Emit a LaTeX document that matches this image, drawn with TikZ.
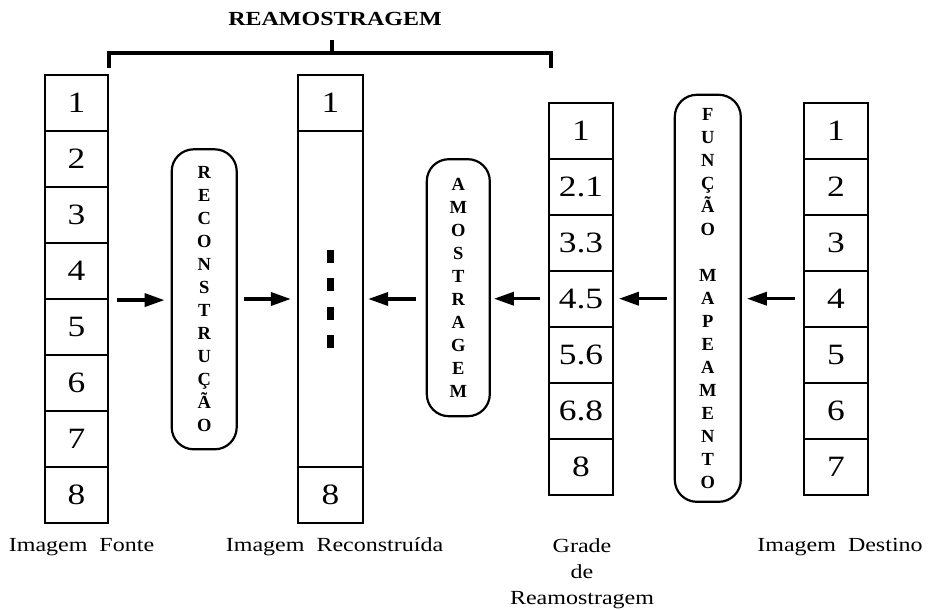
\documentclass[tikz,border=0pt]{standalone}
\usepackage{fontspec}
\setmainfont{Liberation Serif}
\newfontfamily\widefont[FakeStretch=1.2]{Liberation Serif}
\usetikzlibrary{arrows.meta,calc}
\tikzset{
  cell/.style={draw, line width=2.2pt, minimum width=63pt, minimum height=56pt,
    inner sep=0pt, font=\widefont\fontsize{29.5}{29.5}\selectfont},
  vbox/.style={draw, line width=2.2pt, rounded corners=22pt, inner sep=0pt,
    align=center, font=\bfseries\fontsize{18.5}{23}\selectfont},
  arr/.style={line width=3.5pt, -{Triangle[length=20pt,width=13pt]}},
  brk/.style={line width=3.5pt, line join=miter},
  dots/.style={line width=7pt, dash pattern=on 13pt off 15.3pt},
  lbl/.style={font=\widefont\fontsize{20}{26}\selectfont, align=center, inner sep=0pt},
  ttl/.style={font=\widefont\bfseries\fontsize{20}{24}\selectfont, inner sep=0pt}
}
\begin{document}
\begin{tikzpicture}[x=1pt,y=-1pt]
\useasboundingbox (0,0) rectangle (929,610);
\fill[white] (0,0) rectangle (929,610);

% left column: Imagem Fonte
\foreach \i in {1,...,8}
  \node[cell] (L\i) at (76.5,{103+56*(\i-1)}) {\i};

% middle column: Imagem Reconstruida
\node[cell, minimum width=65pt] (M1) at (330.5,103) {1};
\node[cell, minimum width=65pt, minimum height=336pt] (M2) at (330.5,299) {};
\node[cell, minimum width=65pt] (M3) at (330.5,495) {8};
\coordinate (dtop) at (330.5,250);
\coordinate (dbot) at (330.5,348);
\draw[dots] (dtop) -- (dbot);

% grid column
\foreach \v [count=\i] in {1,2.1,3.3,4.5,5.6,6.8,8}
  \node[cell, minimum width=63.5pt] (G\i) at (581,{130.7+56*(\i-1)}) {\v};

% destination column
\foreach \i in {1,...,7}
  \node[cell, minimum width=64pt] (D\i) at (836,{130.7+56*(\i-1)}) {\i};

% rounded process boxes
\node[vbox, minimum width=65pt, minimum height=300pt] (rec) at (204.2,299.3)
  {R\\E\\C\\O\\N\\S\\T\\R\\U\\Ç\\Ã\\O};
\node[vbox, minimum width=63pt, minimum height=257pt] (amo) at (458.3,287.7)
  {A\\M\\O\\S\\T\\R\\A\\G\\E\\M};
\node[vbox, minimum width=66pt, minimum height=407pt] (fun) at (707.8,298.3)
  {F\\U\\N\\Ç\\Ã\\O\\[23pt]M\\A\\P\\E\\A\\M\\E\\N\\T\\O};

% arrows
\draw[arr, shorten <=8pt, shorten >=6pt] (L4.south east) -- (rec.west |- L4.south east);
\draw[arr, shorten <=6pt, shorten >=6pt] (rec.east |- M2.west) -- (M2.west);
\draw[arr, shorten <=10pt, shorten >=4pt] (amo.west |- M2.east) -- (M2.east);
\draw[arr, shorten <=8pt, shorten >=3pt] (G4.west) -- (amo.east |- G4.west);
\draw[arr, shorten <=7pt, shorten >=5pt] (fun.west |- G4.east) -- (G4.east);
\draw[arr, shorten <=8pt, shorten >=5pt] (D4.west) -- (fun.east |- D4.west);

% bracket and title
\coordinate (bl) at (109,68);
\coordinate (br) at (551,68);
\coordinate (bt) at (332,40);
\draw[brk] (bl) -- ++(0,-15) -| (br);
\draw[brk] (bt) -- (bt |- 0,53);
\node[ttl, anchor=base] (title) at (335,26) {REAMOSTRAGEM};

% labels
\node[lbl, anchor=base] (lfonte) at (81.5,551) {Imagem\hspace{12pt}Fonte};
\node[lbl, anchor=base] (lrec) at (334.5,551) {Imagem\hspace{12pt}Reconstruída};
\node[lbl, anchor=base] (lgrade) at (582,604) {Grade\\de\\Reamostragem};
\node[lbl, anchor=base] (ldest) at (840,551) {Imagem\hspace{12pt}Destino};
\end{tikzpicture}
\end{document}
